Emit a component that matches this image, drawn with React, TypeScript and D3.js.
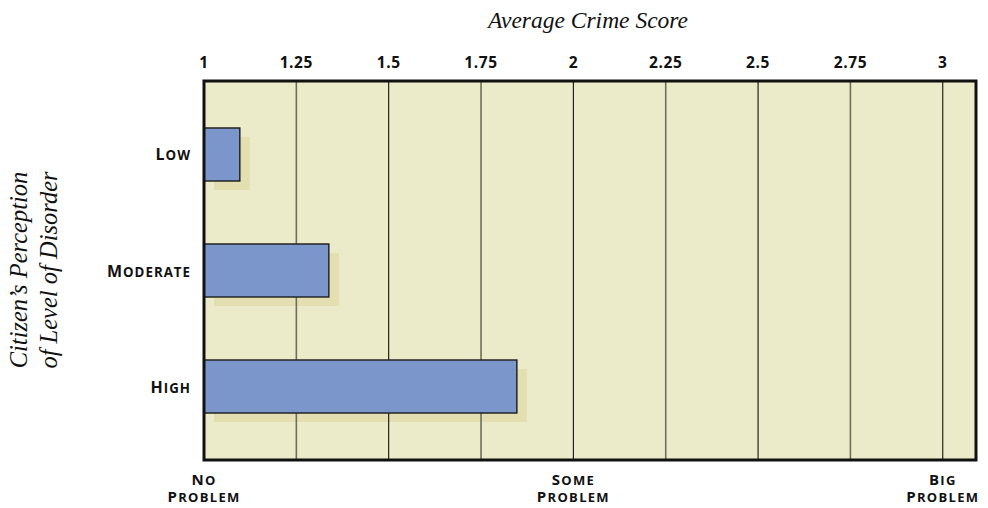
import React from "react";
import * as d3 from "d3";

const categories = ["Low", "Moderate", "High"];
const values = [1.097, 1.338, 1.847];
const tickValues = [1, 1.25, 1.5, 1.75, 2, 2.25, 2.5, 2.75, 3];
const tickLabels = ["1", "1.25", "1.5", "1.75", "2", "2.25", "2.5", "2.75", "3"];
const anchorValues = [1, 2, 3];
const anchorTop = ["No", "Some", "Big"];
const anchorBottom = ["Problem", "Problem", "Problem"];

const W = 988;
const H = 508;
const left = 204;
const right = 976;
const top = 81;
const bottom = 460;

const sans = "'Open Sans', Lato, sans-serif";
const serif = "'Liberation Serif', 'DejaVu Serif', serif";

function SmallCaps({ text, x, y, anchor, big, small, spacing }: { text: string; x: number; y: number; anchor: string; big: number; small: number; spacing: number }) {
  const words = text.split(" ");
  return (
    <text x={x} y={y} textAnchor={anchor as any} fontFamily={sans} fontWeight={700} fill="#111" letterSpacing={spacing}>
      {words.map((w, i) => (
        <React.Fragment key={i}>
          {i > 0 ? <tspan fontSize={small}> </tspan> : null}
          <tspan fontSize={big}>{w[0].toUpperCase()}</tspan>
          <tspan fontSize={small}>{w.slice(1).toUpperCase()}</tspan>
        </React.Fragment>
      ))}
    </text>
  );
}

export default function App() {
  const x = d3.scaleLinear().domain([1, 3.09]).range([left, right]);
  const y = d3
    .scaleBand<string>()
    .domain(categories)
    .range([top, bottom])
    .paddingInner(0.543)
    .paddingOuter(0.405);
  const bw = y.bandwidth();
  const sdx = 10;
  const sdy = 9;

  return (
    <svg width={W} height={H} style={{ position: "absolute", left: 0, top: 0 }}>
      <rect x={left} y={top} width={right - left} height={bottom - top} fill="#ecebc9" />
      {categories.map((c, i) => (
        <rect key={"s" + c} x={left + sdx} y={(y(c) as number) + sdy} width={x(values[i]) - left} height={bw} fill="#e3dfb0" />
      ))}
      {tickValues.map((t, i) => (
        <line
          key={"g" + i}
          x1={x(t)}
          x2={x(t)}
          y1={top}
          y2={bottom}
          stroke={i % 2 === 1 ? "#6e6e60" : "#111"}
          strokeWidth={i % 2 === 1 ? 1.6 : 1.1}
        />
      ))}
      {categories.map((c, i) => (
        <rect key={"b" + c} x={left} y={y(c) as number} width={x(values[i]) - left} height={bw} fill="#7b96cb" stroke="#1a1a1a" strokeWidth={1.4} />
      ))}
      <rect x={left} y={top} width={right - left} height={bottom - top} fill="none" stroke="#111" strokeWidth={3} />
      {tickValues.map((t, i) => (
        <text key={"t" + i} x={x(t)} y={68} textAnchor="middle" fontFamily={sans} fontWeight={700} fontSize={15.5} letterSpacing={0.6} fill="#111">
          {tickLabels[i]}
        </text>
      ))}
      <text x={588} y={28} textAnchor="middle" fontFamily={serif} fontStyle="italic" fontSize={23.5} fill="#111">
        Average Crime Score
      </text>
      {categories.map((c) => (
        <SmallCaps key={"c" + c} text={c} x={191} y={(y(c) as number) + bw / 2 + 6} anchor="end" big={16} small={13.3} spacing={1.0} />
      ))}
      {anchorValues.map((v, i) => (
        <React.Fragment key={"a" + i}>
          <SmallCaps text={anchorTop[i]} x={x(v)} y={485} anchor="middle" big={15} small={13} spacing={1.3} />
          <SmallCaps text={anchorBottom[i]} x={x(v)} y={502} anchor="middle" big={15} small={13} spacing={1.3} />
        </React.Fragment>
      ))}
      <g transform="translate(0,270) rotate(-90)">
        <text x={0} y={27} textAnchor="middle" fontFamily={serif} fontStyle="italic" fontSize={24.5} fill="#111">
          Citizen’s Perception
        </text>
        <text x={0} y={57} textAnchor="middle" fontFamily={serif} fontStyle="italic" fontSize={24.5} fill="#111">
          of Level of Disorder
        </text>
      </g>
    </svg>
  );
}
